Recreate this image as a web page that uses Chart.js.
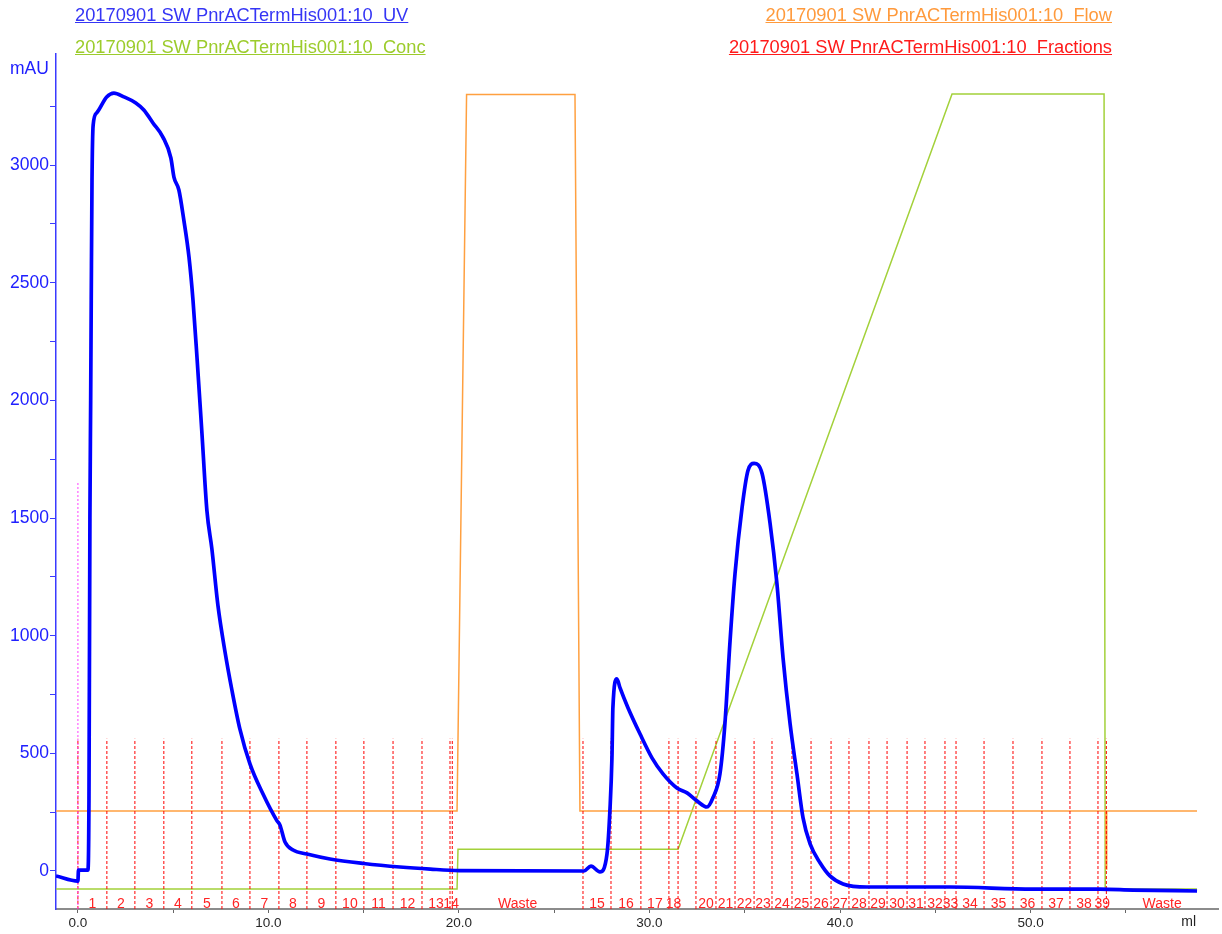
<!DOCTYPE html>
<html>
<head>
<meta charset="utf-8">
<script src="https://cdn.jsdelivr.net/npm/chart.js@4.4.1/dist/chart.umd.min.js"></script>
<style>
  body { margin:0; background:#fff; font-family:"Liberation Sans", Arial, sans-serif; }
  #wrap { position:relative; width:1222px; height:934px; }
  #chart { position:absolute; left:0; top:0; }
  .lg { position:absolute; font-size:18.3px; line-height:20px; text-decoration:underline; white-space:pre; }
  #unit { position:absolute; left:10px; top:58px; font-size:17.5px; line-height:20px; color:#2020ff; }
</style>
</head>
<body>
<div id="wrap">
  <canvas id="chart" width="1222" height="934"></canvas>
  <div class="lg" style="left:75px;top:5px;color:#3535f5">20170901 SW PnrACTermHis001:10  UV</div>
  <div class="lg" style="left:75px;top:37px;color:#9ccc2c">20170901 SW PnrACTermHis001:10  Conc</div>
  <div class="lg" style="right:110px;top:5px;color:#ff9a3c">20170901 SW PnrACTermHis001:10  Flow</div>
  <div class="lg" style="right:110px;top:37px;color:#ff1a1a">20170901 SW PnrACTermHis001:10  Fractions</div>
  <div id="unit">mAU</div>
</div>
<script>
// UV trace (ml, mAU)
const uvMl = [-1.15, 0.0, 0.03, 0.52, 0.58, 0.63, 0.67, 0.70, 0.74, 0.80, 0.98, 1.51, 1.89, 2.41,
  3.04, 3.46, 3.94, 4.46, 4.88, 5.04, 5.30, 5.56, 5.83, 6.04, 6.25, 6.51, 6.77, 7.03, 7.35, 7.72,
  8.09, 8.50, 9.03, 9.71, 10.45, 10.60, 10.87, 11.29, 12.02, 13.23, 15.0, 16.9, 18.5, 20.0,
  26.56, 26.93, 27.40, 27.77, 27.93, 28.03, 28.08, 28.29, 28.45, 28.87, 29.50, 30.13, 30.71,
  31.44, 31.97, 32.49, 33.02, 33.33, 33.70, 33.96, 34.23, 34.49, 34.86, 35.17, 35.49, 35.91,
  36.33, 36.69, 37.01, 37.38, 37.74, 38.06, 38.43, 38.95, 39.47, 40.16, 41.42, 45.77, 50.13,
  53.65, 55.38, 58.74];
const uvMau = [-21, -43, 4, 4, 298, 1498, 2000, 2430, 2936, 3170, 3221, 3289, 3306, 3290,
  3264, 3234, 3179, 3119, 3030, 2949, 2894, 2766, 2609, 2426, 2183, 1860, 1532, 1370, 1128, 932,
  766, 604, 455, 328, 213, 196, 123, 89, 72, 51, 32, 17, 8, 2,
  0, 21, -4, 72, 268, 481, 694, 817, 779, 694, 583, 481, 413,
  353, 332, 298, 272, 311, 413, 626, 979, 1264, 1545, 1702, 1732, 1689,
  1477, 1221, 906, 626, 413, 226, 115, 35, -21, -55, -68, -68, -77,
  -77, -81, -85];

// Flow (ml, ml/min)
const flowMl  = [-1.15, 19.9, 20.4, 26.09, 26.35, 53.95, 53.97, 54.0, 58.74];
const flowVal = [1, 1, 13.35, 13.35, 1, 1, 0, 1, 1];

// Conc (ml, %B)
const concMl  = [-1.15, 19.9, 19.95, 31.5, 45.88, 53.86, 53.92, 58.74];
const concPct = [0, 0, 5, 5, 100, 100, 0, 0];

// Fractions: start of each fraction (ml) and its label
const fracMl = [0, 1.52, 2.99, 4.51, 5.98, 7.56, 9.03, 10.55, 12.02, 13.54, 15.01, 16.54, 18.06,
  19.53, 19.65, 26.51, 27.98, 29.55, 31.02, 31.50, 32.44, 33.49, 34.49, 35.49, 36.43, 37.48,
  38.48, 39.53, 40.47, 41.52, 42.47, 43.52, 44.46, 45.51, 46.09, 47.56, 49.08, 50.60, 52.07,
  53.54, 53.98];
const fracLabels = ['1','2','3','4','5','6','7','8','9','10','11','12','13','14','Waste',
  '15','16','17','18','','20','21','22','23','24','25','26','27','28','29','30','31','32','33',
  '34','35','36','37','38','39','Waste'];

const injectMl = 0;

// axis ranges
const xMin = -1.15, xMax = 59.84;
const yMin = -161.5, yMax = 3472;
const fracTop = 562, injectTop = 1651, fracLabelY = -140;

function pts(xs, ys){ return xs.map((v,i)=>({x:v, y:ys[i]})); }

const fracLines = [];
fracMl.forEach(m=>{
  fracLines.push({x:m, y:yMin}, {x:m, y:fracTop}, {x:m, y:null});
});

const fracLabelPlugin = {
  id: 'fracLabels',
  afterDatasetsDraw(chart){
    const {ctx, scales:{x, y}} = chart;
    ctx.save();
    ctx.font = '14px "Liberation Sans", Arial, sans-serif';
    ctx.fillStyle = '#ff2424';
    ctx.textAlign = 'center';
    ctx.textBaseline = 'middle';
    const yy = y.getPixelForValue(fracLabelY);
    fracLabels.forEach((lab, i)=>{
      if (!lab) return;
      const a = fracMl[i];
      const b = i + 1 < fracMl.length ? fracMl[i+1] : xMax;
      ctx.fillText(lab, x.getPixelForValue((a+b)/2), yy);
    });
    ctx.fillStyle = '#222';
    ctx.font = '14px "Liberation Sans", Arial, sans-serif';
    ctx.fillText('ml', x.getPixelForValue(58.3), x.top + 13);
    ctx.restore();
  }
};

new Chart(document.getElementById('chart').getContext('2d'), {
  type: 'line',
  data: {
    datasets: [
      { label:'UV', data: pts(uvMl, uvMau), yAxisID:'y', borderColor:'#0000ff', borderWidth:3.7,
        pointRadius:0, cubicInterpolationMode:'monotone', fill:false },
      { label:'Injection', data: [{x:injectMl, y:yMin}, {x:injectMl, y:injectTop}], yAxisID:'y',
        borderColor:'#ff40ff', borderWidth:1, borderDash:[2,2], pointRadius:0 },
      { label:'Fractions', data: fracLines, yAxisID:'y', borderColor:'#ff0000', borderWidth:1,
        borderDash:[3,2], pointRadius:0, spanGaps:false },
      { label:'Flow', data: pts(flowMl, flowVal), yAxisID:'yFlow', borderColor:'#ffa040',
        borderWidth:1.5, pointRadius:0, tension:0 },
      { label:'Conc', data: pts(concMl, concPct), yAxisID:'yConc', borderColor:'#a3d13a',
        borderWidth:1.5, pointRadius:0, tension:0 }
    ]
  },
  options: {
    responsive: false,
    devicePixelRatio: 1,
    animation: false,
    layout: { padding: { top:54, right:4, left:0, bottom:0 } },
    plugins: { legend:{ display:false }, tooltip:{ enabled:false } },
    scales: {
      x: {
        type:'linear', min:xMin, max:xMax,
        afterFit(s){ s.height = 25; },
        border:{ display:true, color:'#8c8c8c', width:2 },
        grid:{ drawOnChartArea:false, drawTicks:true, tickLength:4, color:'#666' },
        ticks:{ stepSize:5, includeBounds:false, autoSkip:false, maxRotation:0, padding:2,
          color:'#262626', font:{ size:13.5, family:'"Liberation Sans", Arial, sans-serif' },
          callback:v=> v % 10 === 0 ? v.toFixed(1) : '' }
      },
      y: {
        position:'left', min:yMin, max:yMax,
        afterFit(s){ s.width = 56; },
        border:{ display:true, color:'#3a3aff', width:1.5 },
        grid:{ drawOnChartArea:false, drawTicks:true, tickLength:6, color:'#3a3aff' },
        ticks:{ stepSize:250, includeBounds:false, autoSkip:false, padding:1,
          color:'#2020ff', font:{ size:17.5, family:'"Liberation Sans", Arial, sans-serif' },
          callback:v=> v % 500 === 0 ? String(v) : '' }
      },
      yFlow: { display:false, min:-0.69, max:14.05 },
      yConc: { display:false, min:-2.52, max:105.03 }
    }
  },
  plugins: [fracLabelPlugin]
});
</script>
</body>
</html>
